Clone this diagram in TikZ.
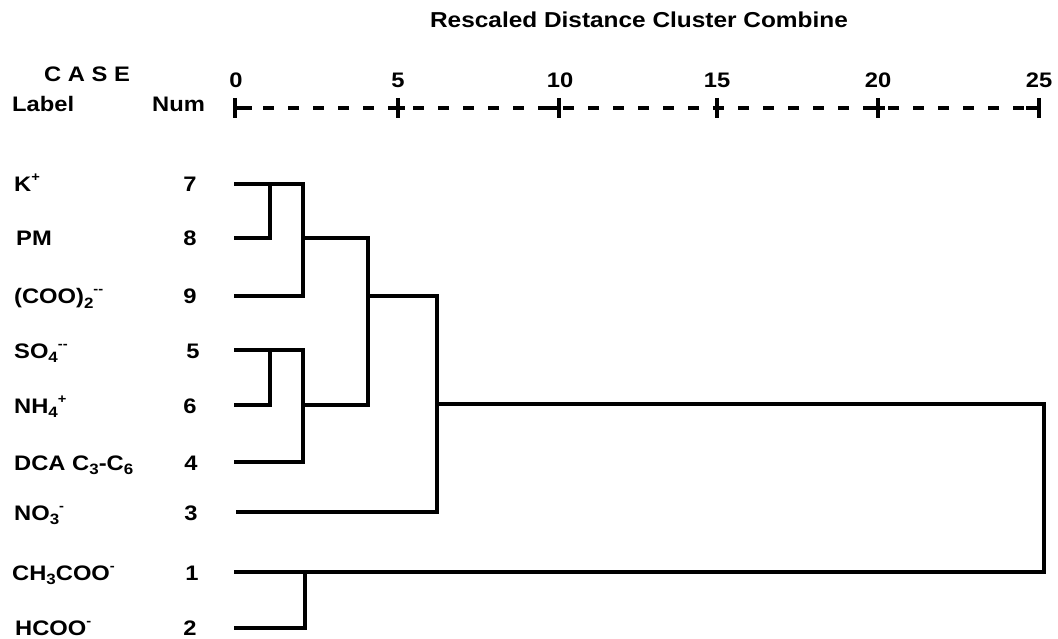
\documentclass[tikz,border=0pt]{standalone}
\usepackage{fontspec}
\setmainfont{Liberation Sans}[FakeStretch=1.13]
\newcommand{\sbs}[1]{\raisebox{-4.5pt}{\fontsize{15}{15}\selectfont #1}}
\newcommand{\sps}[1]{\raisebox{10pt}{\fontsize{13}{13}\selectfont #1}}
\begin{document}
\begin{tikzpicture}[x=1pt,y=-1pt,
  lbl/.style={anchor=base west,inner sep=0pt,font=\fontsize{21}{25}\selectfont\bfseries},
  numlbl/.style={anchor=base,inner sep=0pt,font=\fontsize{21}{25}\selectfont\bfseries},
  ttl/.style={anchor=base,inner sep=0pt,font=\fontsize{21.6}{26}\selectfont\bfseries},
  ticklbl/.style={anchor=base,inner sep=0pt,font=\fontsize{21}{25}\selectfont\bfseries},
  dend/.style={line width=3.8pt,line cap=rect,line join=miter},
  axisline/.style={line width=3.8pt,dash pattern=on 11pt off 14pt,dash phase=22pt},
  tickline/.style={line width=3.8pt}]
\useasboundingbox (0,0) rectangle (1058,639);
% title and headers
\node[ttl] (title) at (639,28) {Rescaled Distance Cluster Combine};
\node[lbl] (case) at (44,82) {C A S E};
\node[lbl] (label) at (12,112) {Label};
\node[lbl] (num) at (152,112) {Num};
% axis numbers
\node[ticklbl] (t0) at (236,88) {0};
\node[ticklbl] (t5) at (398,88) {5};
\node[ticklbl] (t10) at (560,88) {10};
\node[ticklbl] (t15) at (717,88) {15};
\node[ticklbl] (t20) at (878,88) {20};
\node[ticklbl] (t25) at (1039,88) {25};
% axis
\coordinate (a0) at (235,108);
\coordinate (a25) at (1039,108);
\draw[axisline] (a0) -- (a25);
\draw[tickline] (235,98) -- (235,118) (235,108) -- (252,108);
\draw[tickline] (398,98) -- (398,118) (391,108) -- (405,108);
\draw[tickline] (559,98) -- (559,118) (546,108) -- (559,108);
\draw[tickline] (717,98) -- (717,118);
\draw[tickline] (878,98) -- (878,118) (871,108) -- (885,108);
\draw[tickline] (1039,98) -- (1039,118) (1026,108) -- (1039,108);
% row labels
\node[lbl] (nK) at (14,192) {K\sps{+}};
\node[lbl] (nPM) at (16,246) {PM};
\node[lbl] (nCOO) at (14,304) {(COO)\sbs{2}\sps{-{}-}};
\node[lbl] (nSO) at (14,358) {SO\sbs{4}\sps{-{}-}};
\node[lbl] (nNH) at (14,413) {NH\sbs{4}\sps{+}};
\node[lbl] (nDCA) at (14,470) {DCA C\sbs{3}-C\sbs{6}};
\node[lbl] (nNO) at (14,520) {NO\sbs{3}\sps{-}};
\node[lbl] (nCH) at (12,580) {CH\sbs{3}COO\sps{-}};
\node[lbl] (nHC) at (15,635) {HCOO\sps{-}};
% numbers
\node[numlbl] (c7) at (190,192) {7};
\node[numlbl] (c8) at (190,246) {8};
\node[numlbl] (c9) at (190,304) {9};
\node[numlbl] (c5) at (193,358) {5};
\node[numlbl] (c6) at (190,413) {6};
\node[numlbl] (c4) at (191,470) {4};
\node[numlbl] (c3) at (191,520) {3};
\node[numlbl] (c1) at (192,580) {1};
\node[numlbl] (c2) at (190,635) {2};
% leaf start points
\coordinate (l7) at (236,184);
\coordinate (l8) at (236,238);
\coordinate (l9) at (236,296);
\coordinate (l5) at (236,350);
\coordinate (l6) at (236,405);
\coordinate (l4) at (236,462);
\coordinate (l3) at (238,512);
\coordinate (l1) at (236,572);
\coordinate (l2) at (236,628);
% merge points
\coordinate (m78) at (270,184);
\coordinate (m789) at (303,184);
\coordinate (m56) at (270,350);
\coordinate (m564) at (303,350);
\coordinate (mA) at (368,238);
\coordinate (mB) at (437,296);
\coordinate (mC) at (1044,404);
\coordinate (m12) at (305,572);
% dendrogram
\draw[dend] (l7) -- (m789) |- (l9);
\draw[dend] (m78) |- (l8);
\draw[dend] (l5) -- (m564) |- (l4);
\draw[dend] (m56) |- (l6);
\draw[dend] (303,238) -- (mA) |- (303,405);
\draw[dend] (368,296) -- (mB) |- (l3);
\draw[dend] (437,404) -- (mC) |- (l1);
\draw[dend] (m12) |- (l2);
\end{tikzpicture}
\end{document}
